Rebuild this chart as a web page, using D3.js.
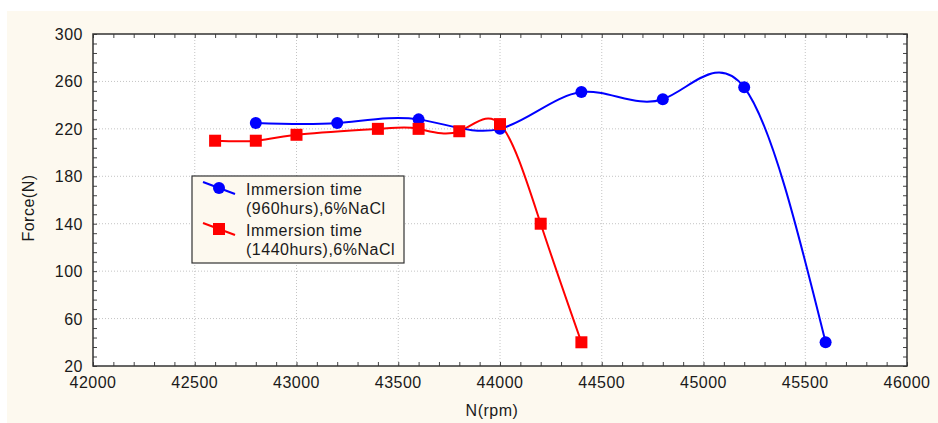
<!DOCTYPE html>
<html>
<head>
<meta charset="utf-8">
<script src="https://cdn.jsdelivr.net/npm/d3@7"></script>
<style>
  body { margin: 0; background: #fff; }
  text { font-family: "Liberation Sans", Arial, sans-serif; fill: #1a1a1a; letter-spacing: 0.5px; }
</style>
</head>
<body>
<div id="chart"></div>
<script>
// rpm values and measured force for each immersion time
var rpm960 = [42800, 43200, 43600, 44000, 44400, 44800, 45200, 45600];
var force960 = [225, 225, 228, 220, 251, 245, 255, 40];
var rpm1440 = [42600, 42800, 43000, 43400, 43600, 43800, 44000, 44200, 44400];
var force1440 = [210, 210, 215, 220, 220, 218, 224, 140, 40];
var xTicks = [42000, 42500, 43000, 43500, 44000, 44500, 45000, 45500, 46000];
var yTicks = [20, 60, 100, 140, 180, 220, 260, 300];
var seriesNames = [["Immersion time", "(960hurs),6%NaCl"], ["Immersion time", "(1440hurs),6%NaCl"]];

function main() {
    var W = 938, H = 423;
    var margin = {top: 34, right: 31, bottom: 57, left: 93},
        width = W - margin.left - margin.right,
        height = H - margin.top - margin.bottom;

    var svg = d3.select("#chart").append("svg")
        .attr("width", W)
        .attr("height", H);

    svg.append("rect")
        .attr("x", 7).attr("y", 11)
        .attr("width", W - 7).attr("height", H - 11)
        .attr("fill", "#fdf9ef");

    var g = svg.append("g")
        .attr("transform", "translate(" + margin.left + "," + margin.top + ")");

    g.append("rect")
        .attr("width", width).attr("height", height)
        .attr("fill", "#fff");

    var x = d3.scaleLinear().domain([42000, 46000]).range([0, width]);
    var y = d3.scaleLinear().domain([20, 300]).range([height, 0]);

    // grid
    g.selectAll(".gx").data(xTicks.slice(1, -1)).join("line")
        .attr("x1", d => x(d)).attr("x2", d => x(d))
        .attr("y1", 0).attr("y2", height)
        .attr("stroke", "#c4c4c4").attr("stroke-dasharray", "1,2");
    g.selectAll(".gy").data(yTicks.slice(1, -1)).join("line")
        .attr("y1", d => y(d)).attr("y2", d => y(d))
        .attr("x1", 0).attr("x2", width)
        .attr("stroke", "#c4c4c4").attr("stroke-dasharray", "1,2");

    // axes with inward ticks
    var minorX = d3.range(42000, 46001, 100);
    var minorY = d3.range(20, 301, 8);
    g.append("g").attr("transform", "translate(0," + height + ")")
        .call(d3.axisTop(x).tickValues(minorX).tickSize(4).tickFormat(""));
    g.append("g")
        .call(d3.axisBottom(x).tickValues(minorX).tickSize(4).tickFormat(""));
    g.append("g")
        .call(d3.axisRight(y).tickValues(minorY).tickSize(4).tickFormat(""));
    g.append("g").attr("transform", "translate(" + width + ",0)")
        .call(d3.axisLeft(y).tickValues(minorY).tickSize(4).tickFormat(""));
    g.selectAll(".domain").remove();
    g.selectAll(".tick line").attr("stroke", "#444");

    g.append("rect")
        .attr("width", width).attr("height", height)
        .attr("fill", "none").attr("stroke", "#333").attr("stroke-width", 1.5);

    // tick labels
    g.selectAll(".xl").data(xTicks).join("text")
        .attr("x", d => x(d)).attr("y", height + 22)
        .attr("text-anchor", "middle")
        .attr("font-size", 16)
        .text(d => d);
    g.selectAll(".yl").data(yTicks).join("text")
        .attr("x", -10).attr("y", d => y(d) + 6)
        .attr("text-anchor", "end")
        .attr("font-size", 16)
        .text(d => d);

    svg.append("text")
        .attr("x", 492).attr("y", 416)
        .attr("text-anchor", "middle").attr("font-size", 16)
        .text("N(rpm)");
    svg.append("text")
        .attr("transform", "translate(34,208) rotate(-90)")
        .attr("text-anchor", "middle").attr("font-size", 16)
        .text("Force(N)");

    var line = d3.line()
        .x(d => x(d[0])).y(d => y(d[1]))
        .curve(d3.curveNatural);

    var d960 = d3.zip(rpm960, force960);
    var d1440 = d3.zip(rpm1440, force1440);

    g.append("path").datum(d1440)
        .attr("d", line).attr("fill", "none")
        .attr("stroke", "#ff0000").attr("stroke-width", 2);
    g.append("path").datum(d960)
        .attr("d", line).attr("fill", "none")
        .attr("stroke", "#0000ff").attr("stroke-width", 2);

    g.selectAll(".m1").data(d960).join("circle")
        .attr("cx", d => x(d[0])).attr("cy", d => y(d[1]))
        .attr("r", 6).attr("fill", "#0000ff");
    g.selectAll(".m2").data(d1440).join("rect")
        .attr("x", d => x(d[0]) - 6).attr("y", d => y(d[1]) - 6)
        .attr("width", 12).attr("height", 12).attr("fill", "#ff0000");

    // legend
    var lg = svg.append("g").attr("transform", "translate(192,176)");
    lg.append("rect")
        .attr("width", 212).attr("height", 87)
        .attr("fill", "#fdf9ef").attr("stroke", "#333").attr("stroke-width", 1.2);
    var colors = ["#0000ff", "#ff0000"];
    seriesNames.forEach(function(name, i) {
        var oy = 12 + i * 41;
        lg.append("line")
            .attr("x1", 11).attr("y1", oy - 6).attr("x2", 43).attr("y2", oy + 6)
            .attr("stroke", colors[i]).attr("stroke-width", 2);
        if (i == 0) {
            lg.append("circle").attr("cx", 27).attr("cy", oy).attr("r", 6).attr("fill", colors[i]);
        } else {
            lg.append("rect").attr("x", 21).attr("y", oy - 6)
                .attr("width", 12).attr("height", 12).attr("fill", colors[i]);
        }
        lg.append("text").attr("x", 54).attr("y", oy + 7)
            .attr("font-size", 16).text(name[0]);
        lg.append("text").attr("x", 54).attr("y", oy + 26)
            .attr("font-size", 16).text(name[1]);
    });
}
main();
</script>
</body>
</html>
